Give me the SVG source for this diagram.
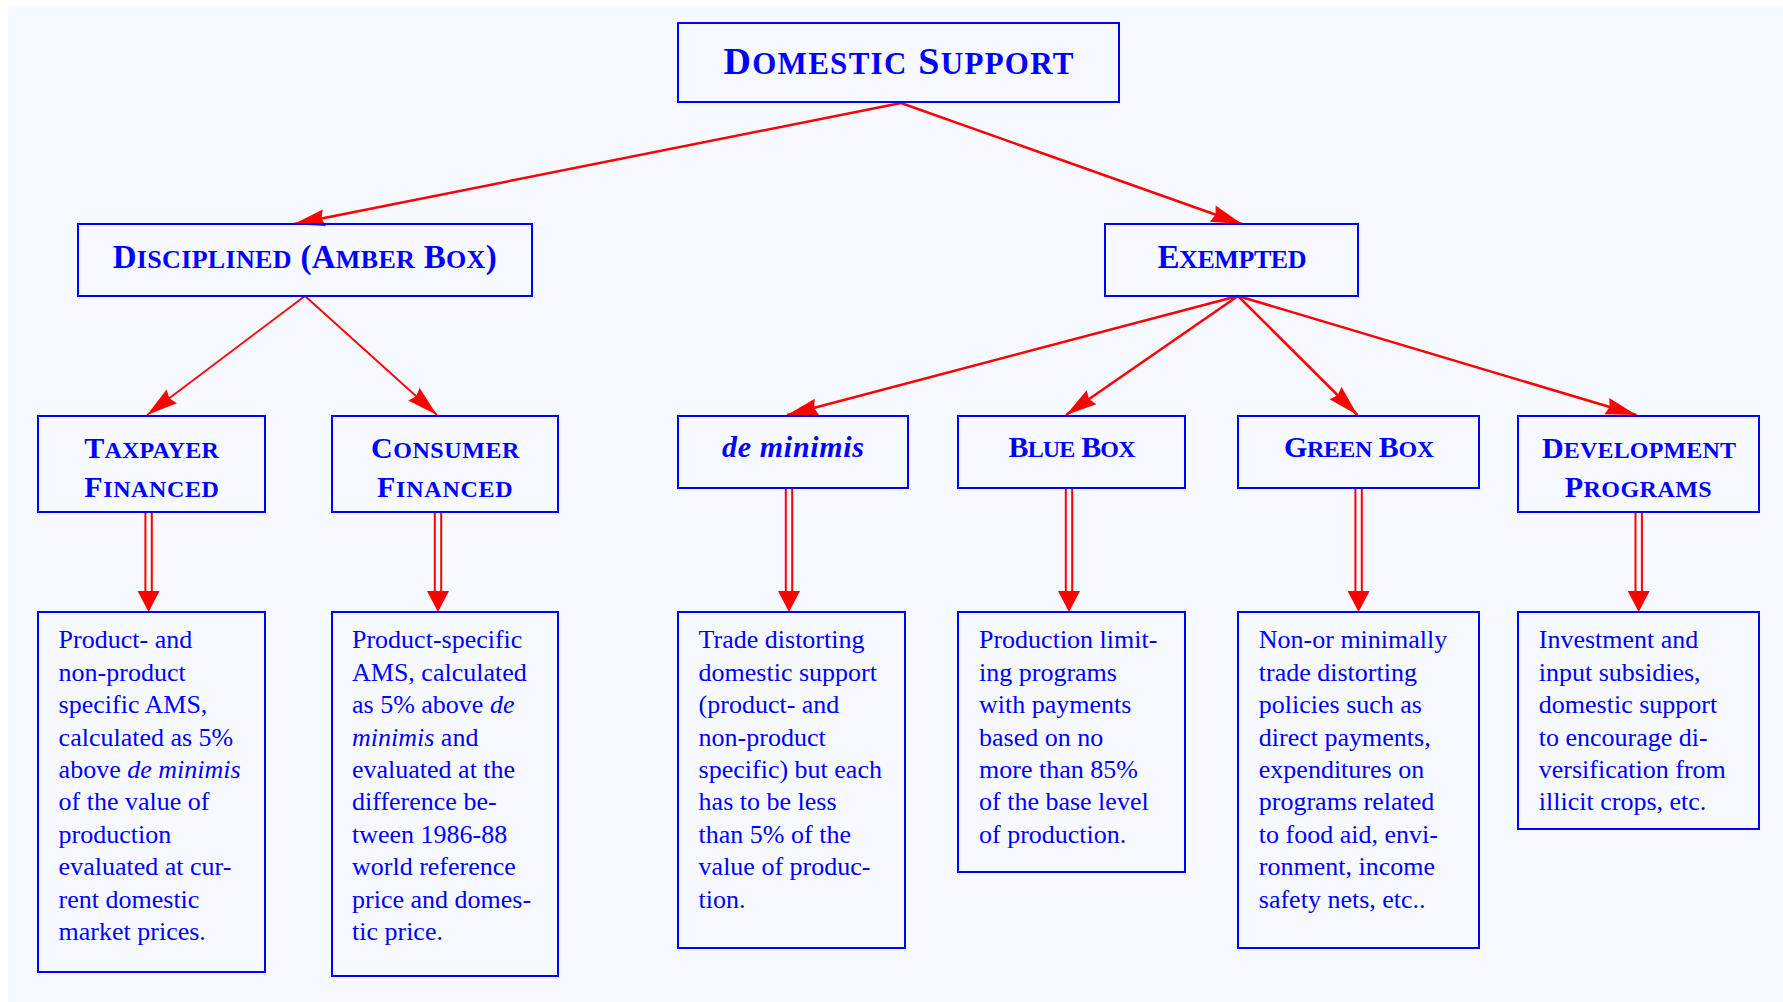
<svg xmlns="http://www.w3.org/2000/svg" width="1783" height="1002" viewBox="0 0 1783 1002">
<style>
.box{fill:none;stroke:#0000ff;stroke-width:2}
.h{font-family:"Liberation Serif","Times New Roman",serif;font-weight:bold;fill:#0000ff}
.h1{font-size:38px}.s1{font-size:31px}
.h2{font-size:33px}.s2{font-size:26px}
.h3{font-size:30px}.s3{font-size:24px}
.it{font-style:italic}
.body{font-family:"Liberation Serif","Times New Roman",serif;font-size:26px;fill:#0000ff}
.edge{stroke:#ff0000;stroke-width:2.5;fill:none}
.edge.thin{stroke-width:1.8}
.dbl{stroke:#ff0000;stroke-width:2;fill:none}
.head{fill:#ff0000}
</style>
<defs>
<marker id="ah" viewBox="-1 -10 33 20" refX="31" refY="0" markerWidth="33" markerHeight="20" markerUnits="userSpaceOnUse" orient="auto">
<path d="M31,0 L0,-8.5 L3,0 L0,8.5 Z" fill="#ff0000"/>
</marker>
</defs>
<rect x="8" y="6" width="1775" height="996" fill="#f6f9ff"/>

<g id="connectors">
<line class="edge" x1="901" y1="103" x2="294" y2="224" marker-end="url(#ah)"/>
<line class="edge" x1="901" y1="103" x2="1242" y2="224" marker-end="url(#ah)"/>
<line class="edge thin" x1="305" y1="296" x2="147" y2="415" marker-end="url(#ah)"/>
<line class="edge thin" x1="305" y1="296" x2="437" y2="415" marker-end="url(#ah)"/>
<line class="edge" x1="1238" y1="296" x2="787" y2="415" marker-end="url(#ah)"/>
<line class="edge" x1="1238" y1="296" x2="1066" y2="415" marker-end="url(#ah)"/>
<line class="edge" x1="1238" y1="296" x2="1357.5" y2="415" marker-end="url(#ah)"/>
<line class="edge" x1="1238" y1="296" x2="1636.5" y2="415" marker-end="url(#ah)"/>

<path class="dbl" d="M145.4,512 V592 M151.8,512 V592"/>
<polygon class="head" points="137.6,591 159.6,591 148.6,612"/>
<path class="dbl" d="M434.8,512 V592 M441.2,512 V592"/>
<polygon class="head" points="427,591 449,591 438,612"/>
<path class="dbl" d="M785.8,488 V592 M792.2,488 V592"/>
<polygon class="head" points="778,591 800,591 789,612"/>
<path class="dbl" d="M1065.8,488 V592 M1072.2,488 V592"/>
<polygon class="head" points="1058,591 1080,591 1069,612"/>
<path class="dbl" d="M1355.4,488 V592 M1361.8,488 V592"/>
<polygon class="head" points="1347.6,591 1369.6,591 1358.6,612"/>
<path class="dbl" d="M1635.5,512 V592 M1641.9,512 V592"/>
<polygon class="head" points="1627.7,591 1649.7,591 1638.7,612"/>
</g>

<g id="domestic-support">
<rect class="box" x="678" y="23" width="441" height="79"/>
<text class="h h1" x="723.5" y="74" textLength="350" lengthAdjust="spacing">D<tspan class="s1">OMESTIC</tspan> S<tspan class="s1">UPPORT</tspan></text>
</g>

<g id="disciplined">
<rect class="box" x="78" y="224" width="454" height="72"/>
<text class="h h2" x="112.7" y="268.3" textLength="384" lengthAdjust="spacing">D<tspan class="s2">ISCIPLINED</tspan> (A<tspan class="s2">MBER</tspan> B<tspan class="s2">OX</tspan>)</text>
</g>

<g id="exempted">
<rect class="box" x="1105" y="224" width="253" height="72"/>
<text class="h h2" x="1157.5" y="267.7" textLength="149" lengthAdjust="spacing">E<tspan class="s2">XEMPTED</tspan></text>
</g>

<g id="taxpayer">
<rect class="box" x="38" y="416" width="227" height="96"/>
<text class="h h3" x="84.3" y="458.3" textLength="134.6" lengthAdjust="spacing">T<tspan class="s3">AXPAYER</tspan></text>
<text class="h h3" x="84.3" y="497.3" textLength="134.6" lengthAdjust="spacing">F<tspan class="s3">INANCED</tspan></text>
</g>

<g id="consumer">
<rect class="box" x="332" y="416" width="226" height="96"/>
<text class="h h3" x="371" y="458.3" textLength="148.3" lengthAdjust="spacing">C<tspan class="s3">ONSUMER</tspan></text>
<text class="h h3" x="377" y="497.3" textLength="135.7" lengthAdjust="spacing">F<tspan class="s3">INANCED</tspan></text>
</g>

<g id="de-minimis">
<rect class="box" x="678" y="416" width="230" height="72"/>
<text class="h h3 it" x="722" y="456.7" textLength="142" lengthAdjust="spacing">de minimis</text>
</g>

<g id="blue-box">
<rect class="box" x="958" y="416" width="227" height="72"/>
<text class="h h3" x="1008.5" y="457.3" textLength="127" lengthAdjust="spacing">B<tspan class="s3">LUE</tspan> B<tspan class="s3">OX</tspan></text>
</g>

<g id="green-box">
<rect class="box" x="1238" y="416" width="241" height="72"/>
<text class="h h3" x="1284" y="457" textLength="150" lengthAdjust="spacing">G<tspan class="s3">REEN</tspan> B<tspan class="s3">OX</tspan></text>
</g>

<g id="development">
<rect class="box" x="1518" y="416" width="241" height="96"/>
<text class="h h3" x="1542" y="458.3" textLength="194" lengthAdjust="spacing">D<tspan class="s3">EVELOPMENT</tspan></text>
<text class="h h3" x="1564.7" y="497.3" textLength="147" lengthAdjust="spacing">P<tspan class="s3">ROGRAMS</tspan></text>
</g>

<g id="taxpayer-desc">
<rect class="box" x="38" y="612" width="227" height="360"/>
<text class="body" x="58.6" y="648.3">Product- and</text>
<text class="body" x="58.6" y="680.7">non-product</text>
<text class="body" x="58.6" y="713.1">specific AMS,</text>
<text class="body" x="58.6" y="745.5">calculated as 5%</text>
<text class="body" x="58.6" y="777.9">above <tspan class="it">de minimis</tspan></text>
<text class="body" x="58.6" y="810.3">of the value of</text>
<text class="body" x="58.6" y="842.7">production</text>
<text class="body" x="58.6" y="875.1">evaluated at cur-</text>
<text class="body" x="58.6" y="907.5">rent domestic</text>
<text class="body" x="58.6" y="939.9">market prices.</text>
</g>

<g id="consumer-desc">
<rect class="box" x="332" y="612" width="226" height="364"/>
<text class="body" x="352" y="648.3">Product-specific</text>
<text class="body" x="352" y="680.7">AMS, calculated</text>
<text class="body" x="352" y="713.1">as 5% above <tspan class="it">de</tspan></text>
<text class="body" x="352" y="745.5"><tspan class="it">minimis</tspan> and</text>
<text class="body" x="352" y="777.9">evaluated at the</text>
<text class="body" x="352" y="810.3">difference be-</text>
<text class="body" x="352" y="842.7">tween 1986-88</text>
<text class="body" x="352" y="875.1">world reference</text>
<text class="body" x="352" y="907.5">price and domes-</text>
<text class="body" x="352" y="939.9">tic price.</text>
</g>

<g id="de-minimis-desc">
<rect class="box" x="678" y="612" width="227" height="336"/>
<text class="body" x="698.6" y="648.3">Trade distorting</text>
<text class="body" x="698.6" y="680.7">domestic support</text>
<text class="body" x="698.6" y="713.1">(product- and</text>
<text class="body" x="698.6" y="745.5">non-product</text>
<text class="body" x="698.6" y="777.9">specific) but each</text>
<text class="body" x="698.6" y="810.3">has to be less</text>
<text class="body" x="698.6" y="842.7">than 5% of the</text>
<text class="body" x="698.6" y="875.1">value of produc-</text>
<text class="body" x="698.6" y="907.5">tion.</text>
</g>

<g id="blue-box-desc">
<rect class="box" x="958" y="612" width="227" height="260"/>
<text class="body" x="979" y="648.3">Production limit-</text>
<text class="body" x="979" y="680.7">ing programs</text>
<text class="body" x="979" y="713.1">with payments</text>
<text class="body" x="979" y="745.5">based on no</text>
<text class="body" x="979" y="777.9">more than 85%</text>
<text class="body" x="979" y="810.3">of the base level</text>
<text class="body" x="979" y="842.7">of production.</text>
</g>

<g id="green-box-desc">
<rect class="box" x="1238" y="612" width="241" height="336"/>
<text class="body" x="1258.8" y="648.3">Non-or minimally</text>
<text class="body" x="1258.8" y="680.7">trade distorting</text>
<text class="body" x="1258.8" y="713.1">policies such as</text>
<text class="body" x="1258.8" y="745.5">direct payments,</text>
<text class="body" x="1258.8" y="777.9">expenditures on</text>
<text class="body" x="1258.8" y="810.3">programs related</text>
<text class="body" x="1258.8" y="842.7">to food aid, envi-</text>
<text class="body" x="1258.8" y="875.1">ronment, income</text>
<text class="body" x="1258.8" y="907.5">safety nets, etc..</text>
</g>

<g id="development-desc">
<rect class="box" x="1518" y="612" width="241" height="217"/>
<text class="body" x="1538.8" y="648.3">Investment and</text>
<text class="body" x="1538.8" y="680.7">input subsidies,</text>
<text class="body" x="1538.8" y="713.1">domestic support</text>
<text class="body" x="1538.8" y="745.5">to encourage di-</text>
<text class="body" x="1538.8" y="777.9">versification from</text>
<text class="body" x="1538.8" y="810.3">illicit crops, etc.</text>
</g>
</svg>
